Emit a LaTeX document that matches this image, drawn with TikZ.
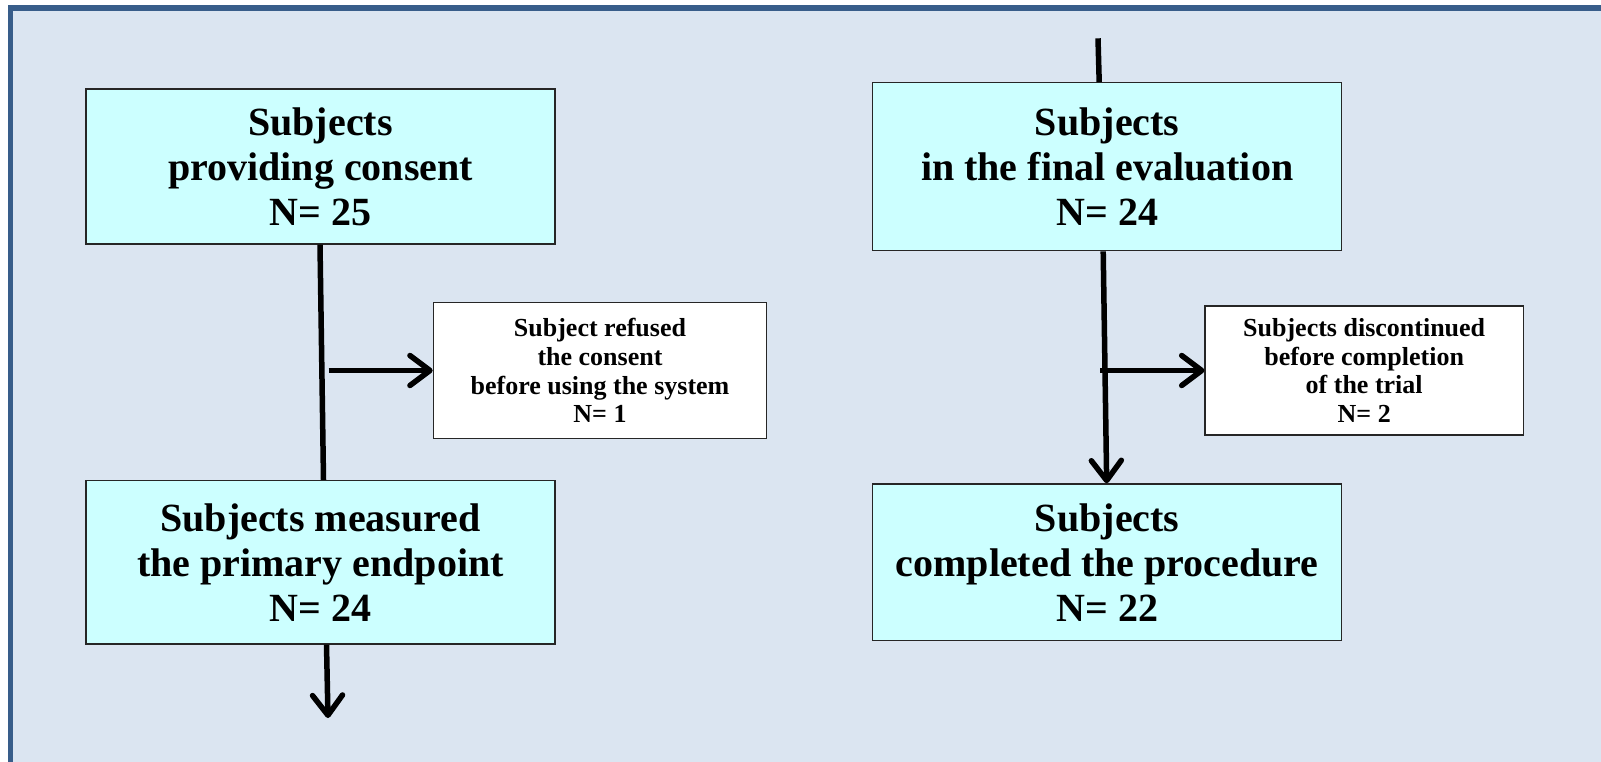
\documentclass[tikz,border=0pt]{standalone}
\usepackage{fontspec}
\setmainfont{Liberation Serif}
\usetikzlibrary{arrows.meta}
\definecolor{panelfill}{HTML}{DBE5F1}
\definecolor{panelrule}{HTML}{385D8A}
\definecolor{boxcyan}{HTML}{CCFFFF}
\begin{document}
\begin{tikzpicture}[x=1pt,y=-1pt,
  stage/.style={draw=black!85, line width=1.4pt, fill=boxcyan, align=center,
    inner sep=0pt, minimum width=469pt,
    font=\bfseries\fontsize{40}{45}\selectfont},
  note/.style={draw=black!85, line width=1.2pt, fill=white, align=center,
    inner sep=0pt, font=\bfseries\fontsize{26}{28.7}\selectfont},
  flow/.style={line width=5.5pt, draw=black},
  flowarrow/.style={flow, -{Straight Barb[length=20pt,width=30pt,round]}}]
\useasboundingbox (0,0) rectangle (1601,761);
\fill[white] (0,0) rectangle (1601,761);
% panel with its rule along the left and top edges
\begin{scope}
  \clip (0,0) rectangle (1601,761);
  \filldraw[fill=panelfill, draw=panelrule, line width=5.5pt]
    (10.5,8) rectangle (1700,900);
\end{scope}

% main stages
\node[stage, minimum height=155pt] (consent) at (320.5,166.5)
  {Subjects\\providing consent\\N= 25};
\node[stage, minimum height=163.3pt] (measured) at (320.5,562.3)
  {Subjects measured\\the primary endpoint\\N= 24};
\node[stage, minimum height=168pt] (final) at (1107.2,166.7)
  {Subjects\\in the final evaluation\\N= 24};
\node[stage, minimum height=156.7pt] (completed) at (1107.2,562.3)
  {Subjects\\completed the procedure\\N= 22};

% side notes
\node[note, minimum width=333.4pt, minimum height=135.6pt] (refused) at (600,370.5)
  {Subject refused\\the consent\\before using the system\\N= 1};
\node[note, minimum width=318.3pt, minimum height=129pt] (discont) at (1364.2,370.5)
  {Subjects discontinued\\before completion\\of the trial\\N= 2};

% connectors, left column
\draw[flow] ([xshift=-0.5pt]consent.south) -- ([xshift=3pt]measured.north);
\coordinate (refusebranch) at (328.5,370.5);
\draw[flowarrow] (refusebranch) -- (refused.west);
\coordinate (leftexit) at (328,718);
\draw[flowarrow] ([xshift=6pt]measured.south) -- (leftexit);

% connectors, right column
\coordinate (rightentry) at (1098,38.3);
\draw[flow] (rightentry) -- ([xshift=-8pt]final.north);
\draw[flowarrow] ([xshift=-4pt]final.south) -- ([xshift=-0.5pt]completed.north);
\coordinate (dropbranch) at (1100,370.5);
\draw[flowarrow] (dropbranch) -- (discont.west);
\end{tikzpicture}
\end{document}
